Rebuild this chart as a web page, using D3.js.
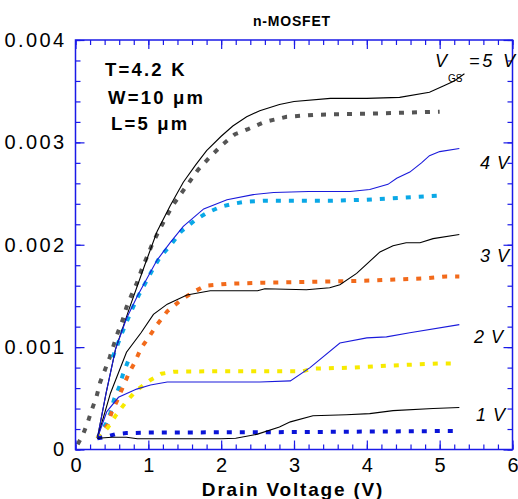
<!DOCTYPE html>
<html>
<head>
<meta charset="utf-8">
<title>n-MOSFET</title>
<script src="https://cdn.jsdelivr.net/npm/d3@7"></script>
<style>
  html, body { margin:0; padding:0; background:white; }
  svg { display:block; }
  text { font-family: "Liberation Sans", Arial, sans-serif; fill:#000; }
</style>
</head>
<body>
<svg id="chart" width="518" height="499"></svg>
<script>
// drain voltage (V), drain current in mA (axis shows A)
var xTicks = [0, 1, 2, 3, 4, 5, 6];
var yTicks = [0, 0.001, 0.002, 0.003, 0.004];

// measured curves (solid)
var meas5 = [[0.3,0.11],[0.42,0.55],[0.55,0.98],[0.75,1.4],[0.95,1.8],[1.12,2.13],[1.3,2.38],[1.48,2.61],[1.65,2.78],[1.8,2.92],[2.0,3.06],[2.16,3.16],[2.35,3.25],[2.53,3.31],[2.8,3.37],[3.0,3.4],[3.5,3.43],[4.0,3.43],[4.45,3.44],[4.86,3.49],[5.05,3.55],[5.2,3.6],[5.34,3.67]];
var meas4 = [[0.3,0.11],[0.42,0.55],[0.55,0.98],[0.7,1.28],[0.85,1.5],[1.12,1.85],[1.3,2.02],[1.48,2.18],[1.76,2.35],[2.08,2.44],[2.44,2.49],[2.72,2.51],[3.2,2.52],[3.77,2.52],[4.04,2.54],[4.29,2.59],[4.41,2.65],[4.59,2.71],[4.75,2.8],[4.86,2.87],[5.0,2.91],[5.27,2.94]];
var meas3 = [[0.3,0.11],[0.48,0.55],[0.7,0.95],[0.9,1.14],[1.07,1.32],[1.26,1.42],[1.53,1.51],[1.85,1.55],[2.5,1.55],[2.6,1.57],[3.17,1.56],[3.49,1.58],[3.63,1.61],[3.86,1.72],[4.18,1.93],[4.36,1.99],[4.54,2.02],[4.73,2.02],[4.91,2.06],[5.27,2.1]];
var meas2 = [[0.3,0.11],[0.43,0.37],[0.59,0.51],[0.84,0.59],[1.03,0.63],[1.26,0.66],[1.85,0.66],[2.53,0.66],[2.95,0.67],[3.22,0.8],[3.63,1.04],[4.0,1.09],[4.27,1.1],[4.59,1.14],[5.27,1.22]];
var meas1 = [[0.3,0.11],[0.5,0.12],[0.7,0.12],[0.85,0.105],[1.3,0.105],[2.0,0.105],[2.2,0.11],[2.5,0.15],[2.8,0.22],[2.95,0.27],[3.26,0.33],[3.72,0.34],[4.04,0.35],[4.36,0.38],[4.91,0.4],[5.27,0.41]];

// simulated curves (dotted)
var sim5 = [[0.03,0.05],[0.105,0.15],[0.17,0.27],[0.23,0.4],[0.29,0.52],[0.34,0.66],[0.4,0.77],[0.47,0.9],[0.52,1.01],[0.58,1.14],[0.65,1.27],[0.7,1.39],[0.77,1.51],[0.845,1.63],[0.91,1.76],[0.98,1.88],[1.05,2.0],[1.14,2.13],[1.23,2.25],[1.33,2.38],[1.44,2.49],[1.56,2.61],[1.68,2.73],[1.85,2.86],[2.02,2.98],[2.19,3.08],[2.37,3.13],[2.6,3.2],[2.9,3.25],[3.3,3.27],[4.0,3.28],[4.5,3.29],[5.0,3.3]];
var sim4 = [[0.51,0.9],[0.57,1.01],[0.64,1.14],[0.71,1.26],[0.79,1.39],[0.87,1.51],[0.97,1.64],[1.06,1.76],[1.16,1.88],[1.31,2.0],[1.45,2.13],[1.64,2.24],[1.8,2.31],[1.99,2.37],[2.16,2.4],[2.33,2.42],[2.6,2.43],[3.5,2.43],[4.0,2.44],[4.5,2.46],[5.0,2.48]];
var sim4low = [[0.3,0.11],[0.42,0.25],[0.48,0.36],[0.53,0.49],[0.6,0.61],[0.65,0.73],[0.72,0.86]];
var sim3 = [[0.3,0.11],[0.44,0.24],[0.5,0.37],[0.58,0.49],[0.65,0.61],[0.73,0.74],[0.82,0.86],[0.9,0.99],[1.0,1.09],[1.12,1.22],[1.26,1.35],[1.43,1.45],[1.6,1.53],[1.78,1.6],[1.95,1.61],[2.12,1.62],[2.6,1.63],[3.4,1.64],[4.04,1.65],[4.38,1.66],[4.75,1.67],[5.09,1.69],[5.27,1.69]];
var sim2 = [[0.3,0.11],[0.44,0.21],[0.56,0.34],[0.7,0.47],[0.84,0.58],[1.03,0.68],[1.18,0.74],[1.35,0.76],[2.0,0.765],[3.12,0.765],[3.26,0.79],[3.81,0.8],[4.32,0.82],[5.0,0.84],[5.22,0.84]];
var sim1 = [[0.3,0.11],[0.4,0.12],[0.55,0.15],[0.7,0.16],[1.0,0.165],[2.0,0.168],[3.0,0.17],[4.0,0.175],[5.0,0.18],[5.27,0.18]];

var width = 518, height = 499;
var plotL = 75.5, plotR = 512.5, plotT = 40, plotB = 449.5;
var axisColor = "#1a1ae8";

var svg = d3.select("#chart");

var x = d3.scaleLinear().domain([0, 6]).range([plotL, plotR]);
var y = d3.scaleLinear().domain([0, 0.004]).range([plotB, plotT]);

var line = d3.line()
  .x(function(d) { return x(d[0]); })
  .y(function(d) { return y(d[1] * 1e-3); });

// simulated (dotted) first, measured on top
var dotted = [
  {data: sim5, color: "#555555"},
  {data: sim4, color: "#0aa8e6"},
  {data: sim4low, color: "#0aa8e6"},
  {data: sim3, color: "#f26a1b"},
  {data: sim2, color: "#f7ea00"},
  {data: sim1, color: "#0a14d8"}
];
var solid = [
  {data: meas5, color: "#000000"},
  {data: meas4, color: "#1a1adb"},
  {data: meas3, color: "#000000"},
  {data: meas2, color: "#1a1adb"},
  {data: meas1, color: "#000000"}
];

dotted.forEach(function(s) {
  svg.append("path")
    .attr("d", line(s.data))
    .attr("fill", "none")
    .attr("stroke", s.color)
    .attr("stroke-width", 4)
    .attr("stroke-dasharray", "5,8");
});
solid.forEach(function(s) {
  svg.append("path")
    .attr("d", line(s.data))
    .attr("fill", "none")
    .attr("stroke", s.color)
    .attr("stroke-width", 1.1);
});

// axes: ticks point inward on all four sides
var minorX = d3.range(0, 6.01, 0.2), minorY = d3.range(0, 0.00401, 0.0002);

function styleAxis(g) {
  g.select(".domain").remove();
  g.selectAll("line").attr("stroke", axisColor).attr("stroke-width", 1.2);
}

svg.append("g").attr("transform", "translate(0," + plotB + ")")
  .call(d3.axisBottom(x).tickValues(minorX).tickSize(-5).tickFormat("")).call(styleAxis);
svg.append("g").attr("transform", "translate(0," + plotB + ")")
  .call(d3.axisBottom(x).tickValues(xTicks).tickSize(-9).tickPadding(8).tickFormat(d3.format("d")))
  .call(styleAxis)
  .selectAll("text").attr("font-size", 20).attr("fill", "#000").attr("dy", "0.71em")
  .attr("font-family", "Liberation Sans, Arial, sans-serif");

svg.append("g").attr("transform", "translate(0," + plotT + ")")
  .call(d3.axisTop(x).tickValues(minorX).tickSize(-5).tickFormat("")).call(styleAxis);
svg.append("g").attr("transform", "translate(0," + plotT + ")")
  .call(d3.axisTop(x).tickValues(xTicks).tickSize(-9).tickFormat("")).call(styleAxis);

svg.append("g").attr("transform", "translate(" + plotL + ",0)")
  .call(d3.axisLeft(y).tickValues(minorY).tickSize(-5).tickFormat("")).call(styleAxis);
svg.append("g").attr("transform", "translate(" + plotL + ",0)")
  .call(d3.axisLeft(y).tickValues(yTicks).tickSize(-9).tickPadding(9)
    .tickFormat(function(d) { return d === 0 ? "0" : d.toFixed(3); }))
  .call(styleAxis)
  .selectAll("text").attr("font-size", 20).attr("fill", "#000")
  .attr("letter-spacing", 2.4)
  .attr("font-family", "Liberation Sans, Arial, sans-serif");

svg.append("g").attr("transform", "translate(" + plotR + ",0)")
  .call(d3.axisRight(y).tickValues(minorY).tickSize(-5).tickFormat("")).call(styleAxis);
svg.append("g").attr("transform", "translate(" + plotR + ",0)")
  .call(d3.axisRight(y).tickValues(yTicks).tickSize(-9).tickFormat("")).call(styleAxis);

svg.append("rect")
  .attr("x", plotL).attr("y", plotT)
  .attr("width", plotR - plotL).attr("height", plotB - plotT)
  .attr("fill", "none").attr("stroke", axisColor).attr("stroke-width", 1.5);

// titles
svg.append("text").text("n-MOSFET")
  .attr("x", 292).attr("y", 26)
  .attr("text-anchor", "middle")
  .attr("font-weight", "bold").attr("font-size", 14).attr("letter-spacing", 0.8);
svg.append("text").text("Drain Voltage (V)")
  .attr("x", 293).attr("y", 496)
  .attr("text-anchor", "middle")
  .attr("font-weight", "bold").attr("font-size", 19).attr("letter-spacing", 1.8);

// conditions
var conds = [["T=4.2 K", 105, 76], ["W=10 \u03bcm", 108, 104], ["L=5 \u03bcm", 111, 130]];
conds.forEach(function(c) {
  svg.append("text").text(c[0])
    .attr("x", c[1]).attr("y", c[2])
    .attr("font-weight", "bold").attr("font-size", 18.5).attr("letter-spacing", 2.2);
});

// gate voltage labels
var vg = svg.append("text").attr("font-size", 18).attr("font-style", "italic");
vg.append("tspan").attr("x", 435).attr("y", 67).text("V");
vg.append("tspan").attr("x", 448).attr("y", 82).attr("font-size", 10).attr("font-style", "normal").text("GS");
vg.append("tspan").attr("x", 469).attr("y", 67).attr("letter-spacing", 2.8).text("=5 V");

var gateLabels = [["4 V", 480, 169], ["3 V", 480, 262], ["2 V", 474, 343], ["1 V", 476, 421]];
gateLabels.forEach(function(g) {
  svg.append("text").text(g[0])
    .attr("x", g[1]).attr("y", g[2])
    .attr("font-size", 18).attr("font-style", "italic").attr("letter-spacing", 1);
});
</script>
</body>
</html>
